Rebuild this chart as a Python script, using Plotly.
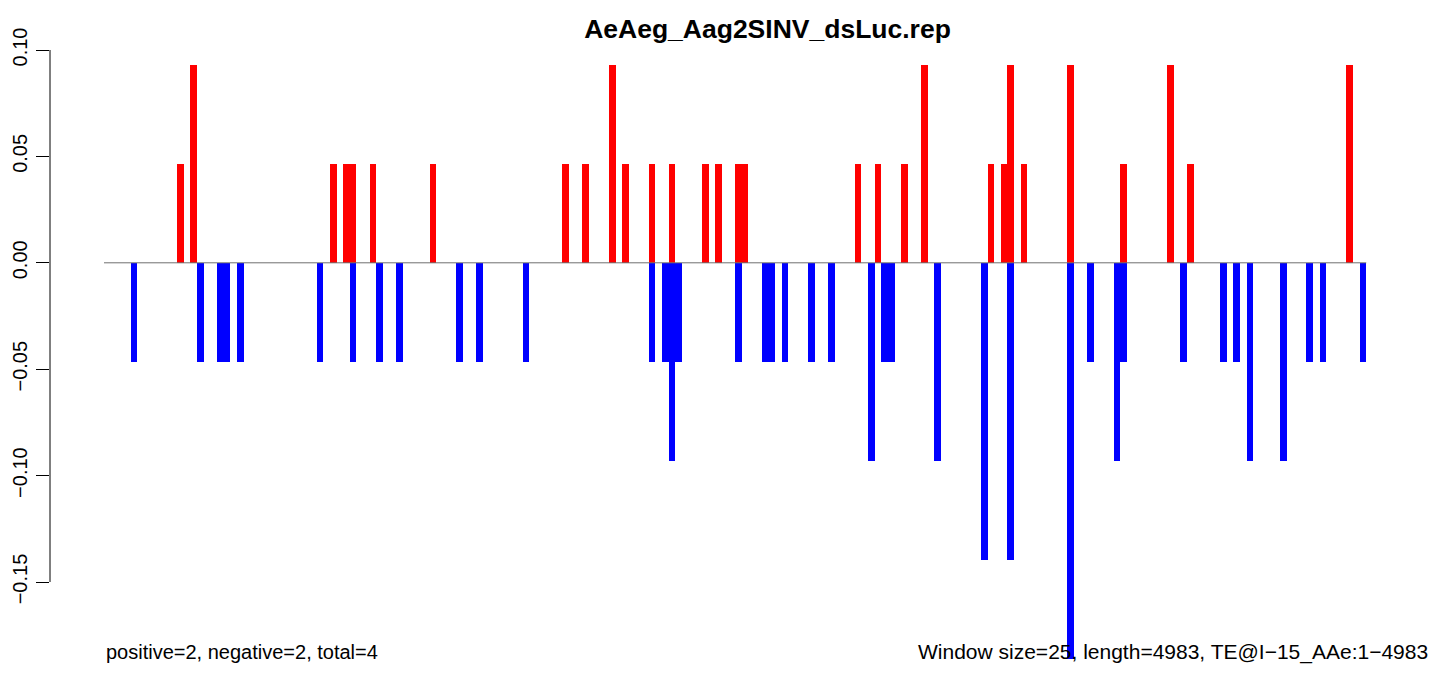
import plotly.graph_objects as go

# ---- data (window index along the TE, normalized signal) ----
pos_window = [11, 13, 34, 36, 37, 40, 49, 69, 72, 76, 78, 82, 85, 90, 92, 95, 96,
              113, 116, 120, 123, 133, 135, 136, 138, 145, 153, 160, 163, 187]
pos_value = [0.0465, 0.093, 0.0465, 0.0465, 0.0465, 0.0465, 0.0465, 0.0465, 0.0465,
             0.093, 0.0465, 0.0465, 0.0465, 0.0465, 0.0465, 0.0465, 0.0465,
             0.0465, 0.0465, 0.0465, 0.093, 0.0465, 0.0465, 0.093, 0.0465, 0.093,
             0.0465, 0.093, 0.0465, 0.093]

neg_window = [4, 14, 17, 18, 20, 32, 37, 41, 44, 53, 56, 63, 82, 84, 85, 86, 95, 99,
              100, 102, 106, 109, 115, 117, 118, 125, 132, 136, 145, 148, 152, 153,
              162, 168, 170, 172, 177, 181, 183, 189]
neg_value = [-0.0465, -0.0465, -0.0465, -0.0465, -0.0465, -0.0465, -0.0465, -0.0465,
             -0.0465, -0.0465, -0.0465, -0.0465, -0.0465, -0.0465, -0.093, -0.0465,
             -0.0465, -0.0465, -0.0465, -0.0465, -0.0465, -0.0465, -0.093, -0.0465,
             -0.0465, -0.093, -0.1395, -0.1395, -0.186, -0.0465, -0.093, -0.0465,
             -0.0465, -0.0465, -0.0465, -0.093, -0.093, -0.0465, -0.0465, -0.0465]

n_windows = 190
y_ticks = [0.10, 0.05, 0.00, -0.05, -0.10, -0.15]
y_ticktext = ["0.10", "0.05", "0.00", "\u22120.05", "\u22120.10", "\u22120.15"]

title_text = "AeAeg_Aag2SINV_dsLuc.rep"
left_note = "positive=2, negative=2, total=4"
right_note = "Window size=25, length=4983, TE@I\u221215_AAe:1\u22124983"

FONT = "Liberation Sans, Arial, Helvetica, sans-serif"

# the page body has an 8px margin; size the figure so it fills the window exactly
PAGE_OFF = 8
W, H = 1449 - 2 * PAGE_OFF, 673 - 2 * PAGE_OFF

fig = go.Figure()
fig.add_trace(go.Bar(x=[w + 0.5 for w in pos_window], y=pos_value, width=1,
                     marker=dict(color="#FF0000", line=dict(width=0)),
                     showlegend=False, hoverinfo="x+y"))
fig.add_trace(go.Bar(x=[w + 0.5 for w in neg_window], y=neg_value, width=1,
                     marker=dict(color="#0000FF", line=dict(width=0)),
                     showlegend=False, hoverinfo="x+y"))

# baseline at zero across the windows
fig.add_shape(type="line", xref="x", yref="y", x0=0, x1=n_windows, y0=0, y1=0,
              line=dict(color="#707070", width=1), layer="above")
# R-style y axis line spanning the tick range only
fig.add_shape(type="line", xref="paper", yref="y", x0=0, x1=0,
              y0=max(y_ticks), y1=min(y_ticks),
              line=dict(color="black", width=1))

plot_l, plot_r, plot_t, plot_b = 50, 1430, 40, 665  # screen pixels
note_y = 652
fig.update_layout(
    width=W, height=H,
    margin=dict(l=plot_l - PAGE_OFF, r=W - (plot_r - PAGE_OFF),
                t=plot_t - PAGE_OFF, b=H - (plot_b - PAGE_OFF), pad=0,
                autoexpand=False),
    paper_bgcolor="white", plot_bgcolor="white",
    barmode="overlay", bargap=0,
    font=dict(family=FONT, color="black"),
    title=dict(text="<b>" + title_text + "</b>", xref="container", yref="container",
               x=(767.5 - PAGE_OFF) / W, y=1 - (29 - PAGE_OFF) / H,
               xanchor="center", yanchor="middle",
               font=dict(size=26.5, family=FONT, color="black")),
    xaxis=dict(range=[-8.13, 199.6], visible=False, fixedrange=True, automargin=False),
    yaxis=dict(range=[-0.189, 0.1047], showgrid=False, zeroline=False, showline=False,
               automargin=False,
               tickmode="array", tickvals=y_ticks, ticktext=y_ticktext,
               ticks="outside", ticklen=13, tickwidth=1, tickcolor="black",
               tickangle=-90, ticklabelstandoff=1,
               tickfont=dict(size=20, family=FONT, color="black"),
               fixedrange=True),
    annotations=[
        dict(text=left_note, xref="paper", yref="paper",
             x=(104 - plot_l) / (plot_r - plot_l), y=(plot_b - note_y) / (plot_b - plot_t),
             xanchor="left", yanchor="middle", showarrow=False,
             font=dict(size=20, family=FONT, color="black")),
        dict(text=right_note, xref="paper", yref="paper", x=1.0,
             y=(plot_b - note_y) / (plot_b - plot_t),
             xanchor="right", yanchor="middle", showarrow=False,
             font=dict(size=21, family=FONT, color="black")),
    ],
)

fig.write_html("out.html")
